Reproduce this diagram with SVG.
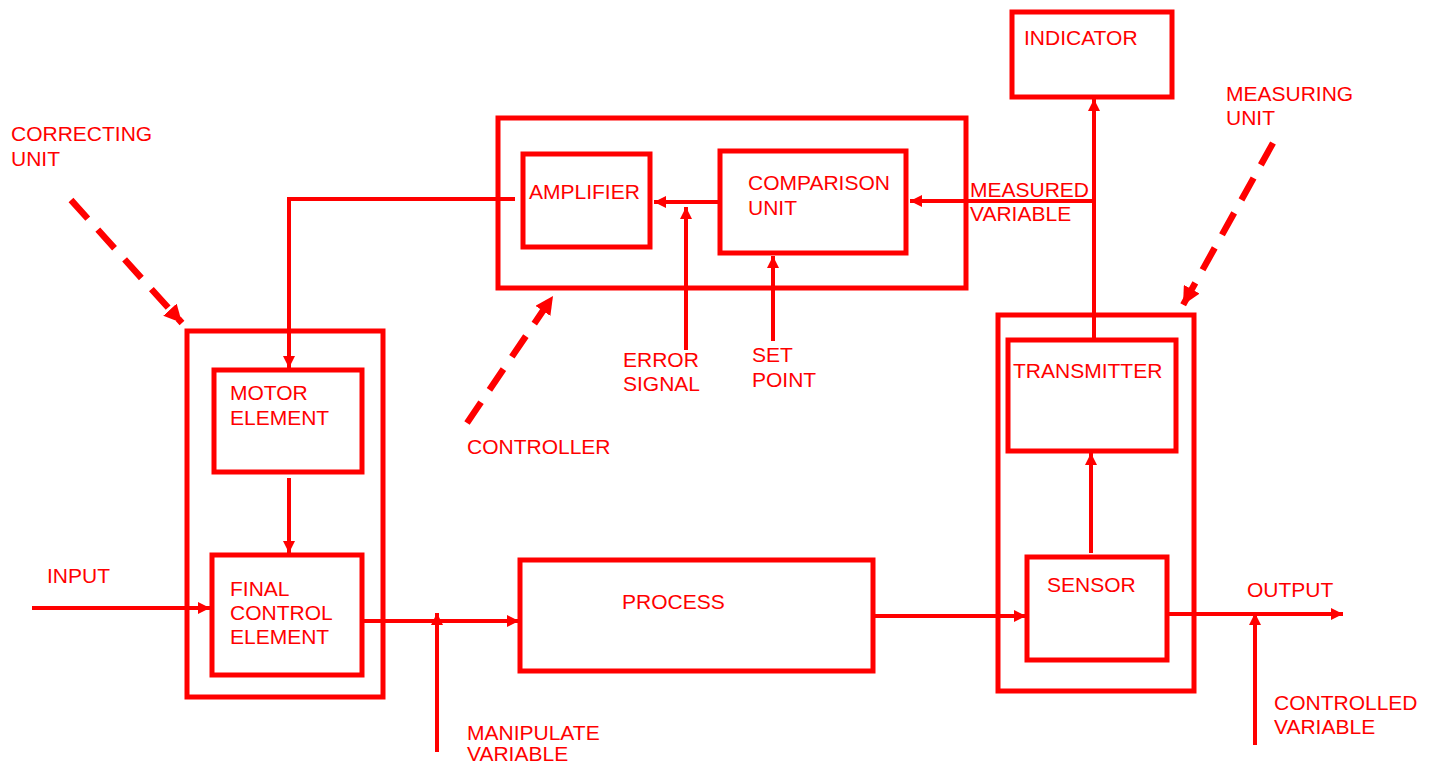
<svg xmlns="http://www.w3.org/2000/svg" width="1437" height="765" viewBox="0 0 1437 765">
  <style>
    .box { fill: none; stroke: #ff0000; stroke-width: 5; }
    .ln { fill: none; stroke: #ff0000; stroke-width: 4; }
    .dash { fill: none; stroke: #ff0000; stroke-width: 6.5; stroke-dasharray: 25 15; }
    text { font-family: "Liberation Sans", Arial, sans-serif; font-size: 21px; fill: #ff0000; }
  </style>
  <defs>
    <marker id="ah" viewBox="0 0 10 10" refX="10" refY="5" markerWidth="12" markerHeight="12" markerUnits="userSpaceOnUse" orient="auto">
      <path d="M0,0 L10,5 L0,10 z" fill="#ff0000"/>
    </marker>
    <marker id="ahBig" viewBox="0 0 10 10" refX="10" refY="5" markerWidth="18" markerHeight="18" markerUnits="userSpaceOnUse" orient="auto">
      <path d="M0,0 L10,5 L0,10 z" fill="#ff0000"/>
    </marker>
  </defs>

  <rect width="1437" height="765" fill="#ffffff"/>

  <!-- connectors -->
  <g id="connectors">
    <path class="ln" d="M515,199 H289 V368" marker-end="url(#ah)"/>
    <path class="ln" d="M289,478 V553" marker-end="url(#ah)"/>
    <path class="ln" d="M32,608 H210" marker-end="url(#ah)"/>
    <path class="ln" d="M362,621 H519" marker-end="url(#ah)"/>
    <path class="ln" d="M437,752 V613" marker-end="url(#ah)"/>
    <path class="ln" d="M873,616 H1026" marker-end="url(#ah)"/>
    <path class="ln" d="M1091,553 V453" marker-end="url(#ah)"/>
    <path class="ln" d="M1094,340 V99" marker-end="url(#ah)"/>
    <path class="ln" d="M1094,201 H910" marker-end="url(#ah)"/>
    <path class="ln" d="M720,202 H654" marker-end="url(#ah)"/>
    <path class="ln" d="M686,350 V207" marker-end="url(#ah)"/>
    <path class="ln" d="M773,341 V256" marker-end="url(#ah)"/>
    <path class="ln" d="M1167,614 H1343" marker-end="url(#ah)"/>
    <path class="ln" d="M1255,745 V613" marker-end="url(#ah)"/>
    <!-- dashed pointers to the unit boxes -->
    <line class="dash" x1="71" y1="200" x2="182" y2="323" marker-end="url(#ahBig)"/>
    <line class="dash" x1="467" y1="423" x2="553" y2="296" marker-end="url(#ahBig)"/>
    <line class="dash" x1="1273" y1="143" x2="1183" y2="305" marker-end="url(#ahBig)"/>
  </g>

  <!-- correcting unit -->
  <g id="correcting-unit">
    <rect class="box" x="187" y="331" width="196" height="366"/>
    <text x="11" y="141">CORRECTING</text>
    <text x="11" y="166">UNIT</text>
  </g>
  <g id="motor-element">
    <rect class="box" x="214" y="370" width="148" height="102"/>
    <text x="230" y="400">MOTOR</text>
    <text x="230" y="425">ELEMENT</text>
  </g>
  <g id="final-control-element">
    <rect class="box" x="212" y="555" width="150" height="120"/>
    <text x="230" y="596">FINAL</text>
    <text x="230" y="620">CONTROL</text>
    <text x="230" y="644">ELEMENT</text>
  </g>

  <!-- controller -->
  <g id="controller">
    <rect class="box" x="498" y="118" width="468" height="170"/>
    <text x="467" y="454">CONTROLLER</text>
  </g>
  <g id="amplifier">
    <rect class="box" x="523" y="154" width="127" height="93"/>
    <text x="529" y="199">AMPLIFIER</text>
  </g>
  <g id="comparison-unit">
    <rect class="box" x="720" y="151" width="186" height="102"/>
    <text x="748" y="190">COMPARISON</text>
    <text x="748" y="215">UNIT</text>
  </g>

  <!-- process -->
  <g id="process">
    <rect class="box" x="520" y="560" width="353" height="111"/>
    <text x="622" y="609">PROCESS</text>
  </g>

  <!-- measuring unit -->
  <g id="measuring-unit">
    <rect class="box" x="998" y="315" width="196" height="376"/>
    <text x="1226" y="101">MEASURING</text>
    <text x="1226" y="125">UNIT</text>
  </g>
  <g id="transmitter">
    <rect class="box" x="1008" y="340" width="168" height="111"/>
    <text x="1013" y="378">TRANSMITTER</text>
  </g>
  <g id="sensor">
    <rect class="box" x="1027" y="557" width="140" height="103"/>
    <text x="1047" y="592">SENSOR</text>
  </g>
  <g id="indicator">
    <rect class="box" x="1012" y="12" width="160" height="85"/>
    <text x="1024" y="45">INDICATOR</text>
  </g>

  <!-- signal labels -->
  <g id="labels">
    <text x="47" y="583">INPUT</text>
    <text x="467" y="740">MANIPULATE</text>
    <text x="467" y="761">VARIABLE</text>
    <text x="623" y="367">ERROR</text>
    <text x="623" y="391">SIGNAL</text>
    <text x="752" y="362">SET</text>
    <text x="752" y="387">POINT</text>
    <text x="970" y="197">MEASURED</text>
    <text x="970" y="221">VARIABLE</text>
    <text x="1247" y="597">OUTPUT</text>
    <text x="1274" y="710">CONTROLLED</text>
    <text x="1274" y="734">VARIABLE</text>
  </g>
</svg>
